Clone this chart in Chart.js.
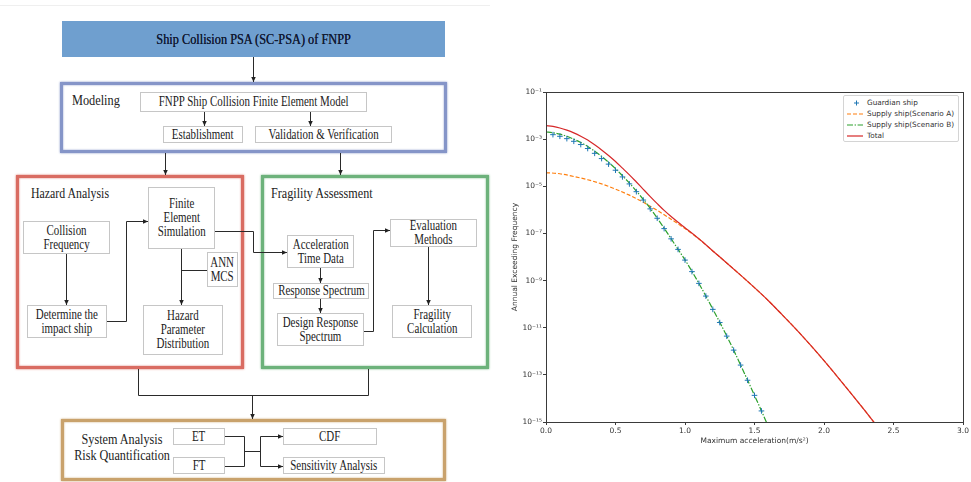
<!DOCTYPE html>
<html><head><meta charset="utf-8">
<script src="https://cdn.jsdelivr.net/npm/chart.js@4.4.1/dist/chart.umd.min.js"></script>
<style>
html,body{margin:0;padding:0;background:#fff;}
body{width:971px;height:482px;position:relative;overflow:hidden;font-family:"Liberation Serif","Times New Roman",serif;}
.b{position:absolute;box-sizing:border-box;border:1px solid #c6c6c6;background:#fff;display:flex;align-items:center;justify-content:center;text-align:center;color:#222;font-size:14px;line-height:14px;white-space:nowrap;}
.b span,.t span{display:inline-block;transform:scaleX(0.78);}
.t{position:absolute;color:#222;white-space:nowrap;font-size:15px;line-height:16px;}
.t.l span{transform-origin:left center;}
.f{position:absolute;box-sizing:border-box;border:3px solid;background:#fff;}
#legend{position:absolute;left:843px;top:95px;width:116px;height:47px;box-sizing:border-box;border:1px solid #d4d4d4;border-radius:2px;background:#fff;font-family:"DejaVu Sans",sans-serif;font-size:7.3px;color:#333;}
#legend .row{position:absolute;left:0;height:10px;width:114px;}
#legend svg{position:absolute;left:2px;top:0;}
#legend .lab{position:absolute;left:23px;top:1px;line-height:8px;white-space:nowrap;}
</style>
</head>
<body>
<!-- flowchart -->
<div style="position:absolute;left:0;top:5px;width:490px;height:1px;background:#efefef"></div>
<div style="position:absolute;left:62px;top:21px;width:383px;height:36px;background:#6f9fcf;display:flex;align-items:center;justify-content:center;color:#111a33;font-size:15px;white-space:nowrap;text-shadow:0 0 0.5px #111a33;" class="t"><span style="transform:scaleX(0.82)">Ship Collision PSA (SC-PSA) of FNPP</span></div>

<div class="f" style="left:60px;top:82px;width:387px;height:71px;border-color:#8595c8;box-shadow:0 0 2px #8595c8, inset 0 0 2px #8595c8;"></div>
<div class="t l" style="left:72px;top:92px;"><span style="transform:scaleX(0.82)">Modeling</span></div>
<div class="b" style="left:140px;top:92px;width:227px;height:20px;"><span>FNPP Ship Collision Finite Element Model</span></div>
<div class="b" style="left:163px;top:126px;width:80px;height:17px;"><span>Establishment</span></div>
<div class="b" style="left:255px;top:126px;width:137px;height:17px;"><span>Validation &amp; Verification</span></div>

<div class="f" style="left:16px;top:175px;width:228px;height:194px;border-color:#d96c62;box-shadow:0 0 2px #d96c62, inset 0 0 2px #d96c62;"></div>
<div class="t l" style="left:31px;top:185px;"><span style="transform:scaleX(0.79)">Hazard Analysis</span></div>
<div class="b" style="left:148px;top:187px;width:67px;height:62px;"><span>Finite<br>Element<br>Simulation</span></div>
<div class="b" style="left:23px;top:221px;width:87px;height:33px;"><span>Collision<br>Frequency</span></div>
<div class="b" style="left:27px;top:305px;width:80px;height:33px;"><span>Determine the<br>impact ship</span></div>
<div class="b" style="left:207px;top:252px;width:31px;height:35px;"><span>ANN<br>MCS</span></div>
<div class="b" style="left:143px;top:305px;width:80px;height:50px;"><span>Hazard<br>Parameter<br>Distribution</span></div>

<div class="f" style="left:261px;top:175px;width:228px;height:194px;border-color:#6db27b;box-shadow:0 0 2px #6db27b, inset 0 0 2px #6db27b;"></div>
<div class="t l" style="left:271px;top:185px;"><span style="transform:scaleX(0.81)">Fragility Assessment</span></div>
<div class="b" style="left:287px;top:235px;width:67px;height:33px;"><span>Acceleration<br>Time Data</span></div>
<div class="b" style="left:273px;top:283px;width:96px;height:16px;"><span>Response Spectrum</span></div>
<div class="b" style="left:277px;top:313px;width:87px;height:33px;"><span>Design Response<br>Spectrum</span></div>
<div class="b" style="left:390px;top:219px;width:87px;height:28px;"><span>Evaluation<br>Methods</span></div>
<div class="b" style="left:392px;top:305px;width:80px;height:33px;"><span>Fragility<br>Calculation</span></div>

<div class="f" style="left:61px;top:419px;width:385px;height:62px;border-color:#c9a26c;box-shadow:0 0 2px #c9a26c, inset 0 0 2px #c9a26c;"></div>
<div class="t" style="left:67px;top:432px;width:100px;text-align:center;font-size:14px;line-height:16px;"><span style="transform:scaleX(0.87)">System Analysis<br>Risk Quantification</span></div>
<div class="b" style="left:173px;top:428px;width:52px;height:17px;"><span>ET</span></div>
<div class="b" style="left:173px;top:457px;width:52px;height:17px;"><span>FT</span></div>
<div class="b" style="left:283px;top:428px;width:94px;height:17px;"><span>CDF</span></div>
<div class="b" style="left:283px;top:457px;width:102px;height:17px;"><span>Sensitivity Analysis</span></div>

<svg width="490" height="482" style="position:absolute;left:0;top:0" fill="none" stroke="#2a2a2a" stroke-width="1">
<defs><marker id="ah" markerWidth="6" markerHeight="6" refX="5.5" refY="3" orient="auto" markerUnits="userSpaceOnUse"><path d="M0,0.5 L5.5,3 L0,5.5 z" fill="#222" stroke="none"/></marker></defs>
<path d="M253.5,57 V82" marker-end="url(#ah)"/>
<path d="M204.5,112 V126" marker-end="url(#ah)"/>
<path d="M310.5,112 V126" marker-end="url(#ah)"/>
<path d="M165.5,153 V175" marker-end="url(#ah)"/>
<path d="M340.5,153 V175" marker-end="url(#ah)"/>
<path d="M66.5,254 V305" marker-end="url(#ah)"/>
<path d="M107,321.5 H126.5 V221.5 H148" marker-end="url(#ah)"/>
<path d="M181.5,249 V305" marker-end="url(#ah)"/>
<path d="M181.5,270.5 H207"/>
<path d="M215,231.5 H253.5 V252.5 H287" marker-end="url(#ah)"/>
<path d="M320.5,268 V283" marker-end="url(#ah)"/>
<path d="M320.5,299 V313" marker-end="url(#ah)"/>
<path d="M364,331.5 H373.5 V230.5 H390" marker-end="url(#ah)"/>
<path d="M428.5,247 V305" marker-end="url(#ah)"/>
<path d="M138.5,369 V395.5 H368.5 V369"/>
<path d="M252.5,395.5 V419" marker-end="url(#ah)"/>
<path d="M225,436.5 H244.5 V466.5 H225"/>
<path d="M244.5,451.5 H260.5"/>
<path d="M260.5,436.5 V466.5"/>
<path d="M260.5,436.5 H283" marker-end="url(#ah)"/>
<path d="M260.5,466.5 H283" marker-end="url(#ah)"/>
</svg>

<!-- chart -->
<canvas id="c" width="476" height="372" style="position:absolute;left:495px;top:80px;width:476px;height:372px"></canvas>
<div id="legend"></div>

<script>
const seriesNames = ['Guardian ship', 'Supply ship(Scenario A)', 'Supply ship(Scenario B)', 'Total'];
const seriesColors = ['#1f77b4', '#ff7f0e', '#2ca02c', '#d62728'];
const xTickValues = [0, 0.5, 1.0, 1.5, 2.0, 2.5, 3.0];
const yTickValues = [1e-15, 1e-13, 1e-11, 1e-9, 1e-7, 1e-5, 1e-3, 1e-1];
const yTickLabels = ['10⁻¹⁵', '10⁻¹³', '10⁻¹¹', '10⁻⁹', '10⁻⁷', '10⁻⁵', '10⁻³', '10⁻¹'];

const guardianX = [0.05,0.10,0.15,0.20,0.25,0.30,0.35,0.40,0.45,0.50,0.55,0.60,0.65,0.70,0.75,0.80,0.85,0.90,0.95,1.00,1.05,1.10,1.15,1.20,1.25,1.30,1.35,1.40,1.45,1.50,1.55];
const guardianY = [1.55e-3,1.32e-3,1.05e-3,8.1e-4,5.9e-4,4.0e-4,2.5e-4,1.5e-4,8.7e-5,4.8e-5,2.5e-5,1.26e-5,5.9e-6,2.6e-6,1.1e-6,4.4e-7,1.6e-7,5.9e-8,2.1e-8,7.4e-9,2.4e-9,7.6e-10,2.2e-10,6.0e-11,1.66e-11,4.4e-12,1.12e-12,2.6e-13,5.9e-14,1.35e-14,2.95e-15];

const scenarioAX = [0,0.1,0.2,0.3,0.4,0.5,0.6,0.7,0.8,0.9,1.0,1.1,1.2,1.3,1.4,1.5,1.6,1.7,1.8,1.9,2.0,2.1,2.2,2.3,2.4];
const scenarioAY = [3.8e-5,3.4e-5,2.6e-5,1.9e-5,1.26e-5,7.6e-6,4.2e-6,2.1e-6,9.5e-7,4.0e-7,1.6e-7,5.8e-8,1.8e-8,5.6e-9,1.7e-9,5.0e-10,1.4e-10,3.5e-11,8.5e-12,1.9e-12,4.0e-13,7.9e-14,1.5e-14,2.75e-15,4.8e-16];

const scenarioBX = [0,0.05,0.10,0.15,0.20,0.25,0.30,0.35,0.40,0.45,0.50,0.55,0.60,0.65,0.70,0.75,0.80,0.85,0.90,0.95,1.00,1.05,1.10,1.15,1.20,1.25,1.30,1.35,1.40,1.45,1.50,1.55,1.60];
const scenarioBY = [2.04e-3,1.86e-3,1.62e-3,1.32e-3,1.0e-3,7.2e-4,4.9e-4,3.1e-4,1.86e-4,1.05e-4,5.6e-5,2.8e-5,1.38e-5,6.3e-6,2.75e-6,1.15e-6,4.5e-7,1.66e-7,6.0e-8,2.1e-8,7.6e-9,2.45e-9,7.6e-10,2.2e-10,6.2e-11,1.7e-11,4.5e-12,1.12e-12,2.6e-13,6.0e-14,1.35e-14,2.95e-15,6.3e-16];

const totalX = [0,0.05,0.10,0.15,0.20,0.25,0.30,0.35,0.40,0.45,0.50,0.55,0.60,0.65,0.70,0.75,0.80,0.85,0.90,0.95,1.00,1.1,1.2,1.3,1.4,1.5,1.6,1.7,1.8,1.9,2.0,2.1,2.2,2.3,2.4];
const totalY = [3.73e-3,3.45e-3,2.97e-3,2.40e-3,1.84e-3,1.33e-3,9.1e-4,5.75e-4,3.49e-4,2.02e-4,1.12e-4,5.87e-5,3.06e-5,1.52e-5,7.45e-6,3.67e-6,1.84e-6,9.46e-7,5.19e-7,2.97e-7,1.75e-7,5.95e-8,1.81e-8,5.6e-9,1.7e-9,5.0e-10,1.4e-10,3.5e-11,8.5e-12,1.9e-12,4.0e-13,7.9e-14,1.5e-14,2.75e-15,4.8e-16];

const pts = (xs, ys) => xs.map((x, i) => ({x: x, y: ys[i]}));
const FONT = {family: 'DejaVu Sans', size: 7.5};

const framePlugin = {
  id: 'frame',
  afterDatasetsDraw(chart) {
    const {ctx, chartArea: a} = chart;
    ctx.save();
    ctx.strokeStyle = '#3a3a3a';
    ctx.lineWidth = 1;
    ctx.strokeRect(Math.round(a.left) + 0.5, Math.round(a.top) + 0.5, Math.round(a.right - a.left), Math.round(a.bottom - a.top));
    ctx.restore();
  }
};

new Chart(document.getElementById('c'), {
  type: 'line',
  data: {
    datasets: [
      {label: seriesNames[0], data: pts(guardianX, guardianY), showLine: false, pointStyle: 'cross', pointRadius: 2.8, pointBorderWidth: 1, borderColor: seriesColors[0], backgroundColor: seriesColors[0], order: 2},
      {label: seriesNames[1], data: pts(scenarioAX, scenarioAY), borderColor: seriesColors[1], borderWidth: 1.2, borderDash: [4, 2], pointRadius: 0, cubicInterpolationMode: 'monotone', order: 4},
      {label: seriesNames[2], data: pts(scenarioBX, scenarioBY), borderColor: seriesColors[2], borderWidth: 1.2, borderDash: [6, 1.6, 1.4, 1.6], pointRadius: 0, cubicInterpolationMode: 'monotone', order: 3},
      {label: seriesNames[3], data: pts(totalX, totalY), borderColor: seriesColors[3], borderWidth: 1.2, pointRadius: 0, cubicInterpolationMode: 'monotone', order: 1}
    ]
  },
  options: {
    responsive: false,
    animation: false,
    devicePixelRatio: 1,
    layout: {padding: {top: 12, right: 8, left: 0, bottom: 0}},
    plugins: {legend: {display: false}, tooltip: {enabled: false}},
    scales: {
      x: {
        type: 'linear', min: 0, max: 3,
        afterBuildTicks: s => { s.ticks = xTickValues.map(v => ({value: v})); },
        afterFit: s => { s.height = 30; },
        ticks: {font: FONT, color: '#333', padding: 2, maxRotation: 0, autoSkip: false, callback: v => Number(v).toFixed(1)},
        grid: {display: true, drawOnChartArea: false, drawTicks: true, tickLength: 3, color: '#3a3a3a'},
        border: {display: false},
        title: {display: true, text: 'Maximum acceleration(m/s²)', font: FONT, color: '#333', padding: {top: 0, bottom: 6}}
      },
      y: {
        type: 'logarithmic', min: 1e-15, max: 1e-1,
        afterBuildTicks: s => { s.ticks = yTickValues.map(v => ({value: v, major: true})); },
        afterFit: s => { s.width = 51; },
        ticks: {font: FONT, color: '#333', padding: 1, autoSkip: false, callback: v => {
          const i = yTickValues.findIndex(t => Math.abs(Math.log10(t) - Math.log10(v)) < 1e-6);
          return i >= 0 ? yTickLabels[i] : '';
        }},
        grid: {display: true, drawOnChartArea: false, drawTicks: true, tickLength: 3, color: '#3a3a3a'},
        border: {display: false},
        title: {display: true, text: 'Annual Exceeding Frequency', font: FONT, color: '#333', padding: {top: 16, bottom: 0}}
      }
    }
  },
  plugins: [framePlugin]
});

// legend (HTML)
const legend = document.getElementById('legend');
const rowTops = [2, 13, 23.5, 34.5];
const samples = [
  '<line x1="8" y1="5" x2="13" y2="5" stroke="#1f77b4" stroke-width="1"/><line x1="10.5" y1="2.5" x2="10.5" y2="7.5" stroke="#1f77b4" stroke-width="1"/>',
  '<line x1="1" y1="5" x2="17" y2="5" stroke="#ff7f0e" stroke-width="1.2" stroke-dasharray="4 2"/>',
  '<line x1="1" y1="5" x2="17" y2="5" stroke="#2ca02c" stroke-width="1.2" stroke-dasharray="6 1.6 1.4 1.6"/>',
  '<line x1="1" y1="5" x2="17" y2="5" stroke="#d62728" stroke-width="1.2"/>'
];
seriesNames.forEach((name, i) => {
  const r = document.createElement('div');
  r.className = 'row';
  r.style.top = rowTops[i] + 'px';
  r.innerHTML = '<svg width="19" height="10">' + samples[i] + '</svg>';
  const s = document.createElement('span');
  s.className = 'lab';
  s.textContent = name;
  r.appendChild(s);
  legend.appendChild(r);
});
</script>
</body></html>
